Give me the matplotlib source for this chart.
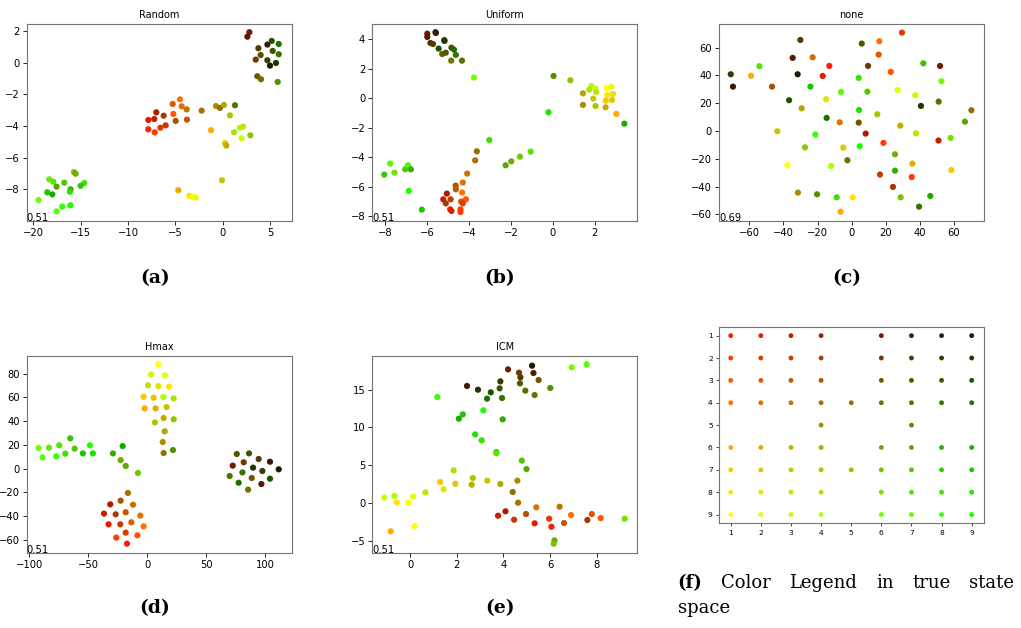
import matplotlib.pyplot as plt

# states of the 9x9 four-room grid, coded as row*10 + col
legend_cells = ([r * 10 + c for r in range(1, 5) for c in range(1, 5)] + [45] +
                [r * 10 + c for r in range(1, 5) for c in range(6, 10)] + [54, 57] +
                [r * 10 + c for r in range(6, 10) for c in range(1, 5)] + [75] +
                [r * 10 + c for r in range(6, 10) for c in range(6, 10)])

random_x = [2.82, 2.61, 4.72, 5.18, 5.92, 3.77, 5.28, 4.01, 5.92, 3.49, 4.72, 5.63, 5.00, 3.66, 4.05, 5.81,
            -7.85, -7.85, -7.22, -7.01, -7.18, -6.58, -6.23, -6.02, -5.28, -5.21, -4.96, -4.51, -4.33, -3.80, -3.77, -2.22,
            -0.70, -0.28, 0.14, 1.30, 0.77, -1.23, 1.20, 1.83, 2.15, 2.01, 2.92, 0.25, 0.39, -0.07, -4.68, -3.52, -3.17, -2.85,
            -15.70, -15.53, -18.31, -17.89, -16.73, -14.61, -15.00, -17.54, -18.52, -17.99, -16.06, -16.13, -19.44, -16.94, -16.09, -17.54]
random_y = [1.92, 1.64, 1.14, 1.37, 1.18, 0.91, 0.74, 0.48, 0.53, 0.19, 0.15, -0.02, -0.19, -0.86, -1.05, -1.22,
            -4.21, -3.62, -3.56, -3.14, -4.40, -4.11, -3.35, -3.96, -2.61, -3.24, -3.68, -2.32, -2.76, -2.95, -3.60, -3.03,
            -2.74, -2.86, -2.67, -2.69, -3.33, -4.27, -4.40, -4.11, -4.04, -4.78, -4.59, -5.09, -5.24, -7.43, -8.06, -8.40, -8.48, -8.51,
            -6.91, -7.01, -7.37, -7.52, -7.58, -7.60, -7.78, -7.83, -8.19, -8.32, -8.00, -8.15, -8.67, -9.09, -9.01, -9.39]
random_cell = [16, 17, 18, 39, 49, 27, 38, 37, 48, 26, 28, 29, 19, 36, 46, 57,
               11, 12, 13, 14, 21, 22, 24, 23, 32, 31, 34, 41, 42, 43, 33, 44,
               54, 45, 64, 47, 74, 61, 84, 94, 83, 93, 75, 72, 63, 73, 62, 81, 91, 92,
               76, 66, 86, 87, 77, 88, 78, 67, 79, 69, 68, 89, 96, 98, 99, 97]

uniform_x = [-5.98, -5.98, -5.59, -5.57, -5.83, -5.71, -5.17, -5.16, -5.44, -5.27, -5.10, -4.83, -4.71, -4.62, -4.84, -4.33, -3.76,
             0.03, 0.83, 1.83, 1.73, 2.02, 2.06, 1.43, 2.57, 2.78, 2.59, 2.86, 1.92, 1.43, 2.03, 2.52, 2.81, 2.51, 3.02, 3.40, -0.21,
             -3.03, -3.62, -3.70, -2.25, -1.98, -1.57, -1.06,
             -7.75, -7.54, -8.03, -7.03, -6.90, -6.76, -6.86, -6.24,
             -4.08, -4.63, -4.62, -4.29, -5.05, -4.32, -5.22, -4.87, -4.14, -4.37, -4.29, -5.10, -4.89, -4.83, -4.40, -4.40]
uniform_y = [4.38, 4.16, 4.48, 4.43, 3.75, 3.68, 3.95, 3.89, 3.37, 3.00, 3.09, 3.43, 3.30, 2.94, 2.55, 2.55, 1.40,
             1.51, 1.22, 0.83, 0.58, 0.67, 0.42, 0.33, 0.69, 0.76, 0.22, 0.29, -0.03, -0.46, -0.53, -0.17, -0.12, -0.62, -1.07, -1.73, -0.96,
             -2.84, -3.61, -4.22, -4.56, -4.29, -3.97, -3.63,
             -4.44, -5.06, -5.19, -4.83, -4.56, -4.83, -6.30, -7.57,
             -5.12, -5.94, -6.19, -5.73, -6.48, -6.41, -6.87, -6.87, -6.87, -7.02, -7.14, -7.14, -7.55, -7.66, -7.55, -7.73]
uniform_cell = [16, 17, 19, 18, 28, 27, 26, 29, 39, 36, 37, 38, 49, 48, 46, 47, 96,
                57, 75, 94, 84, 93, 83, 64, 91, 92, 81, 82, 73, 54, 74, 71, 72, 63, 61, 69, 89,
                88, 45, 44, 67, 66, 76, 87,
                97, 86, 78, 77, 98, 68, 99, 79,
                43, 34, 33, 42, 14, 41, 13, 23, 31, 32, 22, 24, 11, 12, 21, 21]

none_x = [-30.1, 5.9, 29.5, 16.2, 15.8, -34.6, -22.9, -54.1, -13.1, 9.6, 42.0, 51.8, -70.9, -59.0, -31.7, -17.0, 4.1,
          22.9, 52.6, -69.6, -46.7, -24.2, -6.3, 9.2, 26.9, 37.3, -36.7, -15.0, -29.3, 40.6, 51.0, 70.2, -14.7, 4.3,
          15.0, 66.4, -43.6, -7.0, 4.1, 28.5, 8.2, -21.3, 37.7, 58.0, 50.9, -27.4, -4.9, 4.7, 18.6, -2.5, 25.4,
          -37.7, -12.1, 35.6, 58.4, 16.6, 25.4, 35.2, 24.2, -31.5, -20.3, -8.8, 0.6, 28.7, 46.1, 39.5, -6.5]
none_y = [65.5, 62.9, 70.8, 64.6, 55.0, 52.6, 53.0, 46.6, 46.8, 46.8, 48.7, 46.8, 40.8, 39.8, 40.8, 39.6, 38.2,
          42.5, 35.8, 31.9, 31.9, 31.9, 28.1, 28.3, 29.5, 25.7, 22.1, 22.8, 16.3, 18.0, 21.1, 14.9, 9.4, 15.1,
          12.0, 6.7, -0.2, 6.2, 6.0, 3.8, -1.9, -2.6, -1.7, -5.0, -6.9, -11.8, -12.0, -11.0, -8.6, -21.1, -16.8,
          -24.7, -25.2, -23.5, -28.1, -31.4, -28.6, -33.2, -40.3, -44.4, -45.6, -47.8, -47.8, -47.8, -46.8, -54.5, -58.1]
none_cell = [27, 37, 22, 41, 32, 17, 43, 87, 11, 26, 78, 16, 28, 61, 19, 12, 88,
             31, 96, 18, 34, 79, 97, 77, 92, 93, 39, 82, 64, 29, 47, 45, 49, 89,
             74, 67, 73, 42, 36, 63, 14, 98, 83, 86, 13, 75, 72, 99, 21, 46, 66,
             91, 94, 62, 71, 23, 68, 21, 24, 54, 57, 88, 81, 76, 69, 48, 61]

hmax_x = [9.5, 3.3, 15.1, 0.7, 9.5, 18.5, -3.0, 5.5, 13.7, 22.5, -2.1, 7.2, 16.5, 6.6, 14.0, 22.5, 14.9, 13.2, 14.0, 21.9,
          -92.1, -88.7, -83.3, -77.1, -74.5, -69.4, -65.2, -61.5, -54.5, -48.5, -46.0, -29.0, -20.8, -22.5, -18.2, -7.8,
          -16.3, -31.3, -22.5, -12.0, -36.6, -26.7, -18.2, -5.8, -32.7, -22.8, -13.4, -3.0, -26.2, -18.2, -8.3, -17.1,
          76.0, 86.4, 94.6, 104.2, 72.6, 81.9, 89.8, 111.6, 70.0, 80.8, 97.7, 88.7, 104.2, 77.6, 96.9, 85.6]
hmax_y = [87.9, 79.4, 78.6, 70.2, 69.6, 69.1, 60.6, 59.8, 60.4, 59.2, 50.8, 50.8, 51.9, 39.0, 42.7, 41.6, 31.5, 22.5, 13.2, 15.7,
          17.4, 9.6, 17.7, 10.4, 19.7, 12.7, 25.6, 16.9, 12.9, 19.7, 12.9, 12.9, 19.1, 7.3, 2.3, -3.6,
          -20.4, -30.0, -26.9, -30.3, -37.8, -38.4, -36.7, -39.5, -46.8, -46.8, -45.1, -48.5, -58.0, -53.8, -56.1, -63.1,
          12.4, 12.9, 8.2, 5.9, 2.6, 5.4, 0.9, -0.5, -6.1, -3.1, -1.9, -7.8, -8.4, -11.8, -12.9, -17.6]
hmax_cell = [91, 93, 92, 83, 82, 81, 71, 72, 94, 84, 61, 62, 73, 74, 63, 75, 64, 54, 45, 57,
             96, 97, 86, 98, 87, 88, 78, 77, 79, 99, 89, 68, 69, 66, 67, 76,
             44, 14, 34, 43, 13, 24, 33, 42, 12, 23, 32, 41, 21, 22, 31, 11,
             37, 38, 27, 18, 16, 26, 29, 19, 47, 48, 28, 36, 39, 49, 17, 46]

icm_x = [5.23, 4.20, 4.67, 5.29, 4.73, 5.51, 3.87, 4.71, 2.44, 2.91, 3.84, 4.94, 6.01, 3.46, 5.34, 3.30, 3.94,
         1.17, 6.93, 7.57, 3.14, 2.26, 2.09, 3.97, 2.79, 3.07, 3.70, 3.70, 4.79, 4.99,
         1.87, 2.69, 1.29, 1.94, 3.31, 3.87, 2.64, 4.60, 1.44, 0.66, 4.40, -1.10, -0.67, 0.14, -0.57, -0.07,
         4.63, 6.41, 5.41, 4.09, 4.97, 3.77, 6.90, 7.79, 8.17, 4.46, 5.96, 6.60, 7.60, 5.34, 6.06,
         9.20, -0.83, 0.19, 6.19, 6.16]
icm_y = [18.18, 17.69, 17.25, 17.21, 16.63, 16.28, 16.10, 15.84, 15.49, 15.00, 15.18, 14.87, 15.22, 14.65, 14.29, 13.81, 13.90,
         14.03, 17.96, 18.36, 12.26, 11.73, 11.16, 11.07, 9.08, 8.29, 6.74, 6.57, 5.60, 4.49,
         4.32, 3.30, 2.77, 2.55, 2.95, 2.51, 2.42, 2.95, 1.80, 1.40, 1.45, 0.70, 0.92, 0.83, 0.08, 0.04,
         0.03, -0.50, -0.58, -1.11, -1.47, -1.69, -1.60, -1.47, -2.00, -2.22, -2.09, -2.66, -2.26, -2.70, -3.15,
         -2.09, -3.76, -3.06, -4.96, -5.40]
icm_cell = [19, 16, 26, 17, 27, 36, 28, 37, 18, 29, 38, 47, 57, 39, 46, 49, 48,
            98, 96, 97, 99, 79, 69, 68, 89, 88, 78, 87, 77, 67,
            84, 74, 71, 72, 73, 64, 63, 54, 82, 83, 45, 93, 94, 92, 81, 91,
            44, 43, 42, 14, 34, 13, 41, 32, 31, 23, 22, 33, 24, 12, 11,
            86, 61, 91, 66, 76]


def cell_color(cell):
    r, c = divmod(cell, 10)
    return ((10 - c) / 9, r / 9, 0.0)


fig = plt.figure(figsize=(10.21, 6.28), dpi=100)

panels = [
    ("Random", random_x, random_y, random_cell, [0.0261, 0.6486, 0.2596, 0.3132], (-20.7, 7.29), (-9.98, 2.44)),
    ("Uniform", uniform_x, uniform_y, uniform_cell, [0.3646, 0.6486, 0.2590, 0.3132], (-8.6, 3.99), (-8.32, 5.04)),
    ("none", none_x, none_y, none_cell, [0.7042, 0.6486, 0.2596, 0.3132], (-77.8, 77.6), (-64.6, 77.0)),
    ("Hmax", hmax_x, hmax_y, hmax_cell, [0.0261, 0.1199, 0.2596, 0.3132], (-102.2, 122.6), (-70.7, 94.9)),
    ("ICM", icm_x, icm_y, icm_cell, [0.3646, 0.1199, 0.2596, 0.3132], (-1.62, 9.74), (-6.59, 19.46)),
]
scores = ["0.51", "0.51", "0.69", "0.51", "0.51"]

for (title, xs, ys, cells, rect, xl, yl), score in zip(panels, scores):
    ax = fig.add_axes(rect)
    ax.scatter(xs, ys, c=[cell_color(k) for k in cells], s=20, linewidths=0)
    ax.set_xlim(*xl)
    ax.set_ylim(*yl)
    ax.set_title(title, fontsize=7, pad=4)
    ax.tick_params(labelsize=7.2, length=3, width=0.6, pad=2)
    for sp in ax.spines.values():
        sp.set_color("0.45")
        sp.set_linewidth(0.8)
    ax.text(0, 0, score, transform=ax.transAxes, fontsize=7.2, ha="left", va="baseline")

# color legend: each state drawn at its (col, row) position
axf = fig.add_axes([0.7042, 0.1667, 0.2596, 0.3131])
axf.scatter([k % 10 for k in legend_cells], [k // 10 for k in legend_cells],
            c=[cell_color(k) for k in legend_cells], s=12, linewidths=0)
axf.set_xlim(0.61, 9.41)
axf.set_ylim(9.39, 0.6)
axf.set_xticks(range(1, 10))
axf.set_yticks(range(1, 10))
axf.tick_params(labelsize=5.4, length=2.5, width=0.5, pad=2)
for sp in axf.spines.values():
    sp.set_color("0.45")
    sp.set_linewidth(0.8)

cap = dict(fontsize=13.5, family="DejaVu Serif", ha="center", va="center")
for lab, x, y in [("(a)", 155, 278), ("(b)", 500, 278), ("(c)", 847, 278), ("(d)", 155, 608), ("(e)", 500, 608)]:
    fig.text(x / 1021, 1 - y / 628, lab, weight="bold", **cap)

# justified two-line caption for the legend panel: spread the words of
# the first line evenly between the left and right margins
line_left, line_right = 677.6, 1014.0
words = [("(f)", "bold"), ("Color", "normal"), ("Legend", "normal"),
         ("in", "normal"), ("true", "normal"), ("state", "normal")]
texts = [fig.text(0, 1 - 583 / 628, w, fontsize=13, family="DejaVu Serif", weight=wt,
                  ha="left", va="center") for w, wt in words]
renderer = fig.canvas.get_renderer()
widths = [t.get_window_extent(renderer).width for t in texts]
gap = (line_right - line_left - sum(widths)) / (len(texts) - 1)
x = line_left
for t, w in zip(texts, widths):
    t.set_x(x / 1021)
    x += w + gap
fig.text(line_left / 1021, 1 - 608 / 628, "space", fontsize=13, family="DejaVu Serif", ha="left", va="center")

fig.savefig("out.png", dpi=100)
